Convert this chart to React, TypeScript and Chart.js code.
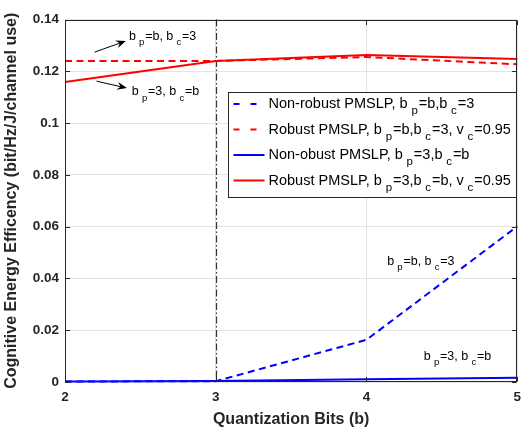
import React, { useEffect, useRef } from 'react';
import { Chart, registerables } from 'chart.js';

Chart.register(...registerables);

const FONT = '"Liberation Sans", Arial, Helvetica, sans-serif';

// ---- data ----
const xValues = [2, 3, 4, 5];
const nonRobustBpB = [0.0002, 0.0003, 0.0163, 0.0601];
const robustBpB = [0.124, 0.124, 0.1255, 0.1227];
const nonRobustBp3 = [0.0002, 0.0004, 0.0011, 0.0016];
const robustBp3 = [0.1159, 0.124, 0.1263, 0.1247];

const xTickValues = [2, 3, 4, 5];
const xTickLabels = ['2', '3', '4', '5'];
const yTickValues = [0, 0.02, 0.04, 0.06, 0.08, 0.1, 0.12, 0.14];
const yTickLabels = ['0', '0.02', '0.04', '0.06', '0.08', '0.1', '0.12', '0.14'];

const seriesLabels = [
  'Non-robust PMSLP, b_p=b,b_c=3',
  'Robust PMSLP, b_p=b,b_c=3, v_c=0.95',
  'Non-obust PMSLP, b_p=3,b_c=b',
  'Robust PMSLP, b_p=3,b_c=b, v_c=0.95',
];
const seriesColors = ['#0000ff', '#ff0000', '#0000ff', '#ff0000'];
const seriesDashed = [true, true, false, false];

const markerX = 3;

// annotations in data coordinates
const noteTexts = ['b_p=b, b_c=3', 'b_p=3, b_c=b', 'b_p=b, b_c=3', 'b_p=3, b_c=b'];
const notePos = [
  [2.424, 0.134],
  [2.443, 0.1124],
  [4.137, 0.0471],
  [4.38, 0.0102],
];
const arrowFrom = [
  [2.196, 0.1274],
  [2.209, 0.1162],
];
const arrowTo = [
  [2.404, 0.1317],
  [2.411, 0.1135],
];

function drawRich(ctx: CanvasRenderingContext2D, text: string, x: number, yMid: number, size: number, subSize: number) {
  const base = yMid + size * 0.358;
  let cx = x;
  const parts = text.split(/(_.)/).filter((p) => p.length > 0);
  ctx.textAlign = 'left';
  ctx.textBaseline = 'alphabetic';
  for (const p of parts) {
    if (p[0] === '_' && p.length === 2) {
      cx += size * 0.26;
      ctx.font = `${subSize}px ${FONT}`;
      ctx.fillText(p[1], cx, base + size * 0.42);
      cx += ctx.measureText(p[1]).width + size * 0.06;
    } else {
      ctx.font = `${size}px ${FONT}`;
      ctx.fillText(p, cx, base);
      cx += ctx.measureText(p).width;
    }
  }
}

function drawArrow(ctx: CanvasRenderingContext2D, x1: number, y1: number, x2: number, y2: number) {
  const a = Math.atan2(y2 - y1, x2 - x1);
  const c = Math.cos(a);
  const s = Math.sin(a);
  const L = 10;
  const W = 4;
  ctx.beginPath();
  ctx.moveTo(x1, y1);
  ctx.lineTo(x2 - L * 0.6 * c, y2 - L * 0.6 * s);
  ctx.stroke();
  ctx.beginPath();
  ctx.moveTo(x2, y2);
  ctx.lineTo(x2 - L * c - W * s, y2 - L * s + W * c);
  ctx.lineTo(x2 - L * 0.65 * c, y2 - L * 0.65 * s);
  ctx.lineTo(x2 - L * c + W * s, y2 - L * s - W * c);
  ctx.closePath();
  ctx.fill();
}

const overlay = {
  id: 'overlay',
  beforeDatasetsDraw(chart: any) {
    const { ctx, chartArea: ca, scales } = chart;
    const px = Math.round(scales.x.getPixelForValue(markerX)) + 0.5;
    ctx.save();
    ctx.strokeStyle = '#333333';
    ctx.lineWidth = 1.2;
    ctx.setLineDash([7, 2.5, 1.5, 2.5]);
    ctx.beginPath();
    ctx.moveTo(px, ca.top);
    ctx.lineTo(px, ca.bottom);
    ctx.stroke();
    ctx.restore();
  },
  afterDatasetsDraw(chart: any) {
    const { ctx, chartArea: ca, scales } = chart;
    const l = Math.round(ca.left) + 0.5;
    const r = Math.round(ca.right) - 0.5;
    const t = Math.round(ca.top) + 0.5;
    const b = Math.round(ca.bottom) - 0.5;
    ctx.save();
    ctx.strokeStyle = '#262626';
    ctx.lineWidth = 1;
    ctx.setLineDash([]);
    ctx.strokeRect(l, t, r - l, b - t);
    const tl = 4.6;
    ctx.beginPath();
    for (const v of xTickValues) {
      const p = Math.round(scales.x.getPixelForValue(v)) + 0.5;
      ctx.moveTo(p, b);
      ctx.lineTo(p, b - tl);
      ctx.moveTo(p, t);
      ctx.lineTo(p, t + tl);
    }
    for (const v of yTickValues) {
      const p = Math.round(scales.y.getPixelForValue(v)) + 0.5;
      ctx.moveTo(l, p);
      ctx.lineTo(l + tl, p);
      ctx.moveTo(r, p);
      ctx.lineTo(r - tl, p);
    }
    ctx.stroke();
    ctx.restore();
  },
  afterDraw(chart: any) {
    const { ctx, chartArea: ca, scales } = chart;
    ctx.save();
    // legend
    const lx = Math.round(ca.left + 163) + 0.5;
    const ly = Math.round(ca.top + 72.5) + 0.5;
    const lw = 288;
    const lh = 105;
    ctx.fillStyle = '#ffffff';
    ctx.fillRect(lx, ly, lw, lh);
    ctx.strokeStyle = '#262626';
    ctx.lineWidth = 1;
    ctx.strokeRect(lx, ly, lw, lh);
    for (let i = 0; i < seriesLabels.length; i++) {
      const cy = ly + 11.5 + i * 25.5;
      ctx.strokeStyle = seriesColors[i];
      ctx.lineWidth = 2;
      ctx.setLineDash(seriesDashed[i] ? [6, 11] : []);
      ctx.beginPath();
      ctx.moveTo(lx + 5, cy);
      ctx.lineTo(lx + 36, cy);
      ctx.stroke();
      ctx.setLineDash([]);
      ctx.fillStyle = '#000000';
      drawRich(ctx, seriesLabels[i], lx + 40, cy - 1, 14.5, 11.5);
    }
    // annotations
    ctx.fillStyle = '#000000';
    ctx.strokeStyle = '#000000';
    ctx.lineWidth = 1;
    for (let i = 0; i < noteTexts.length; i++) {
      const x = scales.x.getPixelForValue(notePos[i][0]);
      const y = scales.y.getPixelForValue(notePos[i][1]);
      drawRich(ctx, noteTexts[i], x, y, 12.5, 9.5);
    }
    for (let i = 0; i < arrowFrom.length; i++) {
      drawArrow(
        ctx,
        scales.x.getPixelForValue(arrowFrom[i][0]),
        scales.y.getPixelForValue(arrowFrom[i][1]),
        scales.x.getPixelForValue(arrowTo[i][0]),
        scales.y.getPixelForValue(arrowTo[i][1])
      );
    }
    ctx.restore();
  },
};

export default function App() {
  const ref = useRef<HTMLCanvasElement>(null);
  useEffect(() => {
    const series = [nonRobustBpB, robustBpB, nonRobustBp3, robustBp3];
    const chart = new Chart(ref.current as HTMLCanvasElement, {
      type: 'line',
      data: {
        datasets: series.map((vals, i) => ({
          label: seriesLabels[i],
          data: xValues.map((x, j) => ({ x, y: vals[j] })),
          borderColor: seriesColors[i],
          backgroundColor: seriesColors[i],
          borderWidth: 2,
          borderDash: seriesDashed[i] ? [7, 4.5] : [],
          pointRadius: 0,
          fill: false,
          tension: 0,
          clip: 3,
        })),
      },
      options: {
        responsive: false,
        animation: false,
        devicePixelRatio: 1,
        layout: { padding: { left: 0, right: 3, top: 19.5, bottom: 0 } },
        plugins: { legend: { display: false }, tooltip: { enabled: false } },
        scales: {
          x: {
            type: 'linear',
            min: 2,
            max: 5,
            afterBuildTicks: (s: any) => {
              s.ticks = xTickValues.map((v) => ({ value: v }));
            },
            afterFit: (s: any) => {
              s.height = 48;
            },
            ticks: {
              autoSkip: false,
              maxRotation: 0,
              padding: 7,
              color: '#262626',
              font: { family: FONT, size: 13.5, weight: 'bold' },
              callback: (_v: any, i: number) => xTickLabels[i],
            },
            grid: { color: '#e3e3e3', lineWidth: 1, drawTicks: false },
            border: { display: false },
            title: {
              display: true,
              text: 'Quantization Bits (b)',
              color: '#262626',
              font: { family: FONT, size: 16, weight: 'bold' },
              padding: { top: 0, bottom: 1 },
            },
          },
          y: {
            type: 'linear',
            min: 0,
            max: 0.14,
            afterBuildTicks: (s: any) => {
              s.ticks = yTickValues.map((v) => ({ value: v }));
            },
            afterFit: (s: any) => {
              s.width = 65;
            },
            ticks: {
              padding: 6,
              color: '#262626',
              font: { family: FONT, size: 13.5, weight: 'bold' },
              callback: (_v: any, i: number) => yTickLabels[i],
            },
            grid: { color: '#e3e3e3', lineWidth: 1, drawTicks: false },
            border: { display: false },
            title: {
              display: true,
              text: 'Cognitive Energy Efficency (bit/Hz/J/channel use)',
              color: '#262626',
              font: { family: FONT, size: 16, weight: 'bold' },
              padding: { top: 2, bottom: 0 },
            },
          },
        },
      },
      plugins: [overlay],
    } as any);
    return () => chart.destroy();
  }, []);
  return (
    <div style={{ position: 'absolute', left: 0, top: 0, width: 528, height: 430, background: '#fff' }}>
      <canvas ref={ref} width={528} height={430} />
    </div>
  );
}
